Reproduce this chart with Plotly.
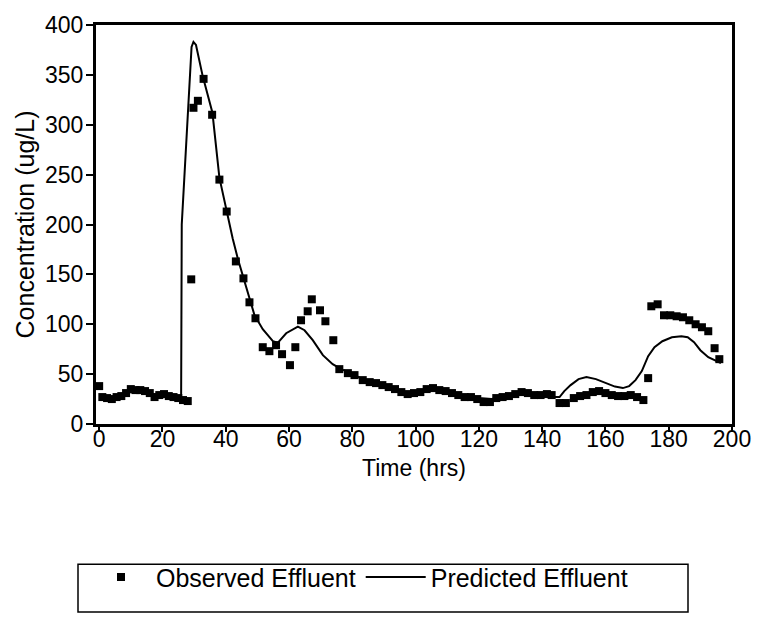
import plotly.graph_objects as go

# Observed effluent (squares)
obs_time = [0, 1, 2.5, 4, 5.5, 7, 8.5, 10, 11.5, 13, 14.5, 16, 17.5, 19, 20.5, 22, 23.5, 25, 26.5, 28,
            29.1, 29.8, 31.2, 33.0, 35.7, 38.0, 40.3, 43.2, 45.6, 47.5, 49.4, 51.7, 53.8, 55.9, 57.8,
            60.3, 62.0, 63.8, 65.9, 67.2, 69.8, 71.5, 74.0, 75.9, 78.6, 80.7, 83.3, 85.5, 87.5, 89.5,
            91.5, 93.5, 95.5, 97.5, 99.5, 101.5, 103.5, 105.5, 107.5, 109.5, 111.5, 113.5, 115.5,
            117.5, 119.5, 121.5, 123.5, 125.5, 127.5, 129.5, 131.5, 133.5, 135.5, 137.5, 139.5,
            141.5, 143, 145.5, 147.5, 150, 152, 154, 156, 158, 160, 162, 164, 166, 168, 170, 172,
            173.5, 174.5, 176.5, 178.5, 180.5, 182.5, 184.5, 186.5, 188.5, 190.5, 192.5, 194.5, 196]
obs_conc = [38, 27, 26, 25, 27, 28, 31, 35, 34, 34, 33, 31, 27, 29, 30, 28, 27, 26, 24, 23,
            145, 317, 324, 346, 310, 245, 213, 163, 146, 122, 106, 77, 73, 79, 70,
            59, 77, 104, 113, 125, 114, 103, 84, 55, 51, 49, 44, 42, 41, 39,
            37, 35, 32, 30, 31, 32, 35, 36, 34, 33, 31, 29, 27,
            27, 25, 22, 22, 26, 27, 28, 30, 32, 31, 29, 29,
            30, 29, 21, 21, 26, 28, 29, 32, 33, 31, 29, 28, 28, 29, 27, 24,
            46, 118, 120, 109, 109, 108, 107, 104, 100, 97, 93, 76, 65]

# Predicted effluent (line)
pred_time = [0, 5, 10, 15, 20, 25.5, 25.9, 26.1, 28, 29.2, 29.8, 30.6, 32.7, 35.8, 38, 40.3, 42.2,
             43.8, 45.6, 47.5, 49.1, 51.7, 54.9, 56.5, 59.1, 62.8, 64.9, 67.5, 70.7, 73.8, 76.5,
             80.2, 84.4, 88, 92, 96, 100, 104, 108, 112, 116, 120, 124, 128, 132, 136, 140, 144,
             145.5, 147, 149, 151.5, 154, 157, 160, 163, 165.5, 167.5, 169.5, 171.5, 173.5, 175.5,
             178, 181, 184, 186, 188, 190, 192.5, 195, 196.5]
pred_conc = [27, 27, 32, 31, 28, 24, 24, 200, 318, 378, 383, 380, 349, 312, 247, 213, 186,
             166, 147, 125, 109, 95, 83, 81.5, 91, 97.6, 94, 84, 69, 60, 55,
             50, 43, 40, 36, 32, 31, 33, 33, 30, 28, 26, 25, 27, 29, 29, 29, 27,
             27, 33, 39, 45, 47, 45, 41, 37.5, 36, 38, 44, 53, 68, 77,
             83, 87, 88, 87, 82, 74, 67, 63, 61]

x_ticks = [0, 20, 40, 60, 80, 100, 120, 140, 160, 180, 200]
y_ticks = [0, 50, 100, 150, 200, 250, 300, 350, 400]

FONT = "Liberation Sans, Arial, sans-serif"

fig = go.Figure()
fig.add_trace(go.Scatter(
    x=obs_time, y=obs_conc, mode="markers", name="Observed Effluent",
    marker=dict(symbol="square", size=8, color="black", line=dict(width=0)),
))
fig.add_trace(go.Scatter(
    x=pred_time, y=pred_conc, mode="lines", name="Predicted Effluent",
    line=dict(color="black", width=2),
))

L, R, T, B = 96, 732, 23, 424
W, H = 766, 617
pw, ph = R - L, B - T

def px2x(p):
    return (p - L) / pw

def py2y(p):
    return (B - p) / ph

fig.update_layout(
    width=W, height=H, autosize=False,
    margin=dict(l=L, r=W - R, t=T, b=H - B, pad=0),
    paper_bgcolor="white", plot_bgcolor="white",
    font=dict(family=FONT, size=23, color="black"),
    showlegend=True,
    legend=dict(
        orientation="h", x=px2x(86), xanchor="left", y=py2y(578), yanchor="middle",
        font=dict(family=FONT, size=25, color="black"),
        itemwidth=60,
        bgcolor="rgba(0,0,0,0)", borderwidth=0,
    ),
    xaxis=dict(
        range=[-1, 200], tickmode="array", tickvals=x_ticks,
        showline=True, mirror=True, linewidth=3, linecolor="black",
        ticks="outside", ticklen=5, tickwidth=2, tickcolor="black",
        ticklabelstandoff=-13,
        showgrid=False, zeroline=False,
        tickfont=dict(family=FONT, size=23, color="black"),
        title=dict(text="Time (hrs)", font=dict(family=FONT, size=23, color="black"), standoff=10),
    ),
    yaxis=dict(
        range=[0, 400], tickmode="array", tickvals=y_ticks,
        showline=True, mirror=True, linewidth=3, linecolor="black",
        ticks="outside", ticklen=7, tickwidth=2, tickcolor="black",
        ticklabelstandoff=-2,
        showgrid=False, zeroline=False,
        tickfont=dict(family=FONT, size=23, color="black"),
        title=dict(text="Concentration (ug/L)", font=dict(family=FONT, size=25, color="black"), standoff=4),
    ),
    shapes=[dict(
        type="rect", xref="paper", yref="paper",
        x0=px2x(78), x1=px2x(688), y0=py2y(613), y1=py2y(565),
        line=dict(color="black", width=1.5), fillcolor="rgba(0,0,0,0)",
    )],
)

fig.write_html("out.html")
